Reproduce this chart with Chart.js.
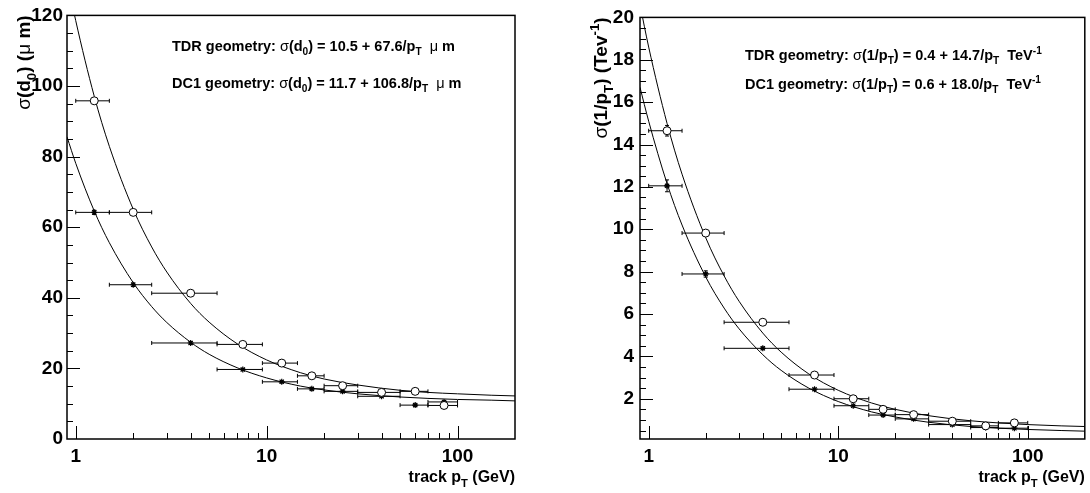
<!DOCTYPE html>
<html lang="en">
<head>
<meta charset="UTF-8">
<title>Track resolution vs pT</title>
<script src="https://cdn.jsdelivr.net/npm/chart.js"></script>
<style>
  body { margin: 0; background: #fff; width: 1090px; height: 493px; position: relative; overflow: hidden; }
  canvas { position: absolute; left: 0; top: 0; }
</style>
</head>
<body>
<canvas id="d0Chart" width="1090" height="493"></canvas>
<canvas id="ptChart" width="1090" height="493"></canvas>

<script>
// bins in track pT (GeV)
const binLo = [1, 1.5, 2.5, 5.5, 9.5, 14.5, 20, 30, 50, 70];
const binHi = [1.5, 2.5, 5.5, 9.5, 14.5, 20, 30, 50, 70, 100];
const ptCentre = [1.25, 2, 4, 7.5, 12, 17.25, 25, 40, 60, 85];

// sigma(d0) in micron
const d0DC1 = [95.8, 64.2, 41.3, 26.8, 21.5, 17.9, 15.1, 13.2, 13.5, 9.5];
const d0TDR = [64.2, 43.7, 27.2, 19.7, 16.2, 14.2, 13.5, 12.1, 9.6, 10.5];
const d0DC1Err = [0.6, 0.5, 0.4, 0.3, 0.3, 0.3, 0.3, 0.3, 0.3, 0.3];
const d0TDRErr = [0.6, 0.5, 0.4, 0.3, 0.3, 0.3, 0.3, 0.3, 0.3, 0.3];

// sigma(1/pT) in TeV^-1
const invDC1 = [14.65, 9.82, 5.61, 3.12, 2.0, 1.5, 1.25, 0.94, 0.72, 0.86];
const invTDR = [12.05, 7.89, 4.38, 2.45, 1.67, 1.23, 1.05, 0.78, 0.64, 0.61];
const invDC1Err = [0.25, 0.12, 0.06, 0.04, 0.03, 0.03, 0.02, 0.02, 0.02, 0.02];
const invTDRErr = [0.28, 0.15, 0.06, 0.04, 0.03, 0.03, 0.02, 0.02, 0.02, 0.02];

// fitted curves, sampled along the drawn lines
const curvePt = [0.9, 1, 1.25, 1.5, 2, 2.5, 3, 4, 5, 7, 10, 15, 20, 30, 50, 70, 100, 150, 200];
const d0DC1Fit = [130.4, 118.5, 97.1, 82.9, 65.1, 54.4, 47.3, 38.4, 33.1, 27.0, 22.4, 18.8, 17.0, 15.3, 13.8, 13.2, 12.8, 12.4, 12.2];
const d0TDRFit = [85.6, 78.1, 64.6, 55.6, 44.3, 37.5, 33.0, 27.4, 24.0, 20.2, 17.3, 15.0, 13.9, 12.8, 11.9, 11.5, 11.2, 11.0, 10.8];
const invDC1Fit = [20.6, 18.6, 15.0, 12.6, 9.6, 7.8, 6.6, 5.1, 4.2, 3.17, 2.4, 1.8, 1.5, 1.2, 0.96, 0.86, 0.78, 0.72, 0.69];
const invTDRFit = [16.7, 15.1, 12.16, 10.2, 7.75, 6.28, 5.3, 4.08, 3.34, 2.5, 1.87, 1.38, 1.14, 0.89, 0.69, 0.61, 0.55, 0.5, 0.47];

// tick labels
const xTicks = [1, 10, 100];
const xMinor = [2, 3, 4, 5, 6, 7, 8, 9, 20, 30, 40, 50, 60, 70, 80, 90];
const d0Ticks = [0, 20, 40, 60, 80, 100, 120];
const invTicks = [2, 4, 6, 8, 10, 12, 14, 16, 18, 20];

const FONT = '"Liberation Sans", Arial, Helvetica, sans-serif';
Chart.defaults.font.family = FONT;
Chart.defaults.color = '#000';

const xy = (xs, ys) => xs.map((v, i) => ({ x: v, y: ys[i] }));

// text with sub/superscripts, drawn piece by piece
function drawRich(ctx, parts, x, y, size, align) {
  const fontOf = p => `${p.w || 'bold'} ${(p.sub || p.sup) ? size * 0.7 : size}px ${FONT}`;
  let total = 0;
  parts.forEach(p => { ctx.font = fontOf(p); total += ctx.measureText(p.t).width; });
  let cx = align === 'right' ? x - total : x;
  ctx.textAlign = 'left';
  ctx.textBaseline = 'alphabetic';
  parts.forEach(p => {
    ctx.font = fontOf(p);
    const dy = p.sub ? size * 0.3 : p.sup ? -size * 0.42 : 0;
    ctx.fillText(p.t, cx, y + dy);
    cx += ctx.measureText(p.t).width;
  });
}

function makeDecor(spec) {
  return {
    id: 'decor',
    beforeDatasetsDraw(chart) {
      const { ctx, scales: { x, y } } = chart;
      ctx.save();
      ctx.strokeStyle = '#000';
      ctx.lineWidth = 1;
      chart.data.datasets.forEach(ds => {
        if (!ds.lo) return;
        ds.data.forEach((p, i) => {
          const px = x.getPixelForValue(p.x), py = y.getPixelForValue(p.y);
          const x0 = x.getPixelForValue(ds.lo[i]), x1 = x.getPixelForValue(ds.hi[i]);
          const y0 = y.getPixelForValue(p.y - ds.err[i]), y1 = y.getPixelForValue(p.y + ds.err[i]);
          ctx.beginPath();
          ctx.moveTo(x0, py); ctx.lineTo(x1, py);
          ctx.moveTo(x0, py - 2); ctx.lineTo(x0, py + 2);
          ctx.moveTo(x1, py - 2); ctx.lineTo(x1, py + 2);
          if (y0 - y1 > 2) {
            ctx.moveTo(px, y0); ctx.lineTo(px, y1);
            ctx.moveTo(px - 2, y0); ctx.lineTo(px + 2, y0);
            ctx.moveTo(px - 2, y1); ctx.lineTo(px + 2, y1);
          }
          ctx.stroke();
        });
      });
      ctx.restore();
    },
    afterDraw(chart) {
      const { ctx, chartArea: a, scales: { x, y } } = chart;
      ctx.save();
      ctx.strokeStyle = '#000';
      ctx.fillStyle = '#000';
      ctx.lineWidth = 1.5;
      ctx.strokeRect(a.left, a.top, a.right - a.left, a.bottom - a.top);

      ctx.lineWidth = 1;
      ctx.beginPath();
      xTicks.forEach(v => {
        const px = Math.round(x.getPixelForValue(v)) + 0.5;
        ctx.moveTo(px, a.bottom); ctx.lineTo(px, a.bottom - 13);
      });
      xMinor.forEach(v => {
        const px = Math.round(x.getPixelForValue(v)) + 0.5;
        ctx.moveTo(px, a.bottom); ctx.lineTo(px, a.bottom - 6);
      });
      for (let v = spec.yStep; v < y.max; v += spec.yStep) {
        const py = Math.round(y.getPixelForValue(v)) + 0.5;
        const major = spec.yTicks.some(t => Math.abs(t - v) < 1e-6);
        ctx.moveTo(a.left, py); ctx.lineTo(a.left + (major ? 13 : 6), py);
      }
      ctx.stroke();

      // axis titles
      drawRich(ctx, [{ t: 'track p' }, { t: 'T', sub: 1 }, { t: ' (GeV)' }], a.right, 482, 16, 'right');
      ctx.save();
      ctx.translate(spec.yTitleX, a.top);
      ctx.rotate(-Math.PI / 2);
      drawRich(ctx, spec.yTitle, 0, 0, 19, 'right');
      ctx.restore();

      // fit results
      spec.notes.forEach(n => drawRich(ctx, n.parts, n.x, n.y, 14.5, 'left'));
      ctx.restore();
    }
  };
}

function makeChart(id, spec) {
  const [dc1, tdr, dc1Err, tdrErr, dc1Fit, tdrFit] = spec.series;
  return new Chart(document.getElementById(id), {
    type: 'scatter',
    data: {
      datasets: [
        { data: xy(curvePt, dc1Fit), showLine: true, pointRadius: 0, borderColor: '#000', borderWidth: 1, cubicInterpolationMode: 'monotone', order: 2 },
        { data: xy(curvePt, tdrFit), showLine: true, pointRadius: 0, borderColor: '#000', borderWidth: 1, cubicInterpolationMode: 'monotone', order: 2 },
        { data: xy(ptCentre, dc1), lo: binLo, hi: binHi, err: dc1Err, pointStyle: 'circle', pointRadius: 4,
          backgroundColor: '#fff', borderColor: '#000', borderWidth: 1, order: 1 },
        { data: xy(ptCentre, tdr), lo: binLo, hi: binHi, err: tdrErr, pointStyle: 'star', pointRadius: 3,
          backgroundColor: '#000', borderColor: '#000', borderWidth: 1.2, order: 1 }
      ]
    },
    options: {
      responsive: false,
      animation: false,
      events: [],
      layout: { padding: spec.padding },
      plugins: { legend: { display: false }, tooltip: { enabled: false } },
      scales: {
        x: {
          type: 'logarithmic', min: 0.9, max: 200, bounds: 'data',
          afterBuildTicks: s => { s.ticks = xTicks.map(v => ({ value: v })); },
          afterFit: s => { s.height = 54; },
          grid: { display: false, drawTicks: false },
          border: { display: false },
          ticks: { callback: v => String(v), autoSkip: false, maxRotation: 0, padding: 6,
                   color: '#000', font: { size: 19, weight: 'bold' } }
        },
        y: {
          type: 'linear', min: spec.yMin, max: spec.yMax, bounds: 'data',
          afterBuildTicks: s => { s.ticks = spec.yTicks.map(v => ({ value: v })); },
          afterFit: s => { s.width = spec.yWidth; },
          grid: { display: false, drawTicks: false },
          border: { display: false },
          ticks: { autoSkip: false, padding: spec.yPad, color: '#000', font: { size: 19, weight: 'bold' } }
        }
      }
    },
    plugins: [makeDecor(spec)]
  });
}

const sigma = { t: 'σ', w: 'normal' };
const mu = { t: 'μ', w: 'normal' };

makeChart('d0Chart', {
  series: [d0DC1, d0TDR, d0DC1Err, d0TDRErr, d0DC1Fit, d0TDRFit],
  padding: { left: 0, right: 1090 - 515, top: 15, bottom: 0 },
  yWidth: 67, yPad: 4, yMin: 0, yMax: 120, yTicks: d0Ticks, yStep: 5,
  yTitleX: 30,
  yTitle: [sigma, { t: '(d' }, { t: '0', sub: 1 }, { t: ') (' }, mu, { t: ' m)' }],
  notes: [
    { x: 172, y: 51, parts: [{ t: 'TDR geometry: ' }, sigma, { t: '(d' }, { t: '0', sub: 1 }, { t: ') = 10.5 + 67.6/p' }, { t: 'T', sub: 1 }, { t: '  ' }, mu, { t: ' m' }] },
    { x: 172, y: 88, parts: [{ t: 'DC1 geometry: ' }, sigma, { t: '(d' }, { t: '0', sub: 1 }, { t: ') = 11.7 + 106.8/p' }, { t: 'T', sub: 1 }, { t: '  ' }, mu, { t: ' m' }] }
  ]
});

makeChart('ptChart', {
  series: [invDC1, invTDR, invDC1Err, invTDRErr, invDC1Fit, invTDRFit],
  padding: { left: 535, right: 2, top: 15, bottom: 0 },
  yWidth: 105, yPad: 6, yMin: 0.1, yMax: 20, yTicks: invTicks, yStep: 0.5,
  yTitleX: 607,
  yTitle: [sigma, { t: '(1/p' }, { t: 'T', sub: 1 }, { t: ') (Tev' }, { t: '-1', sup: 1 }, { t: ')' }],
  notes: [
    { x: 745, y: 60, parts: [{ t: 'TDR geometry: ' }, sigma, { t: '(1/p' }, { t: 'T', sub: 1 }, { t: ') = 0.4 + 14.7/p' }, { t: 'T', sub: 1 }, { t: '  TeV' }, { t: '-1', sup: 1 }] },
    { x: 745, y: 89, parts: [{ t: 'DC1 geometry: ' }, sigma, { t: '(1/p' }, { t: 'T', sub: 1 }, { t: ') = 0.6 + 18.0/p' }, { t: 'T', sub: 1 }, { t: '  TeV' }, { t: '-1', sup: 1 }] }
  ]
});
</script>
</body>
</html>
